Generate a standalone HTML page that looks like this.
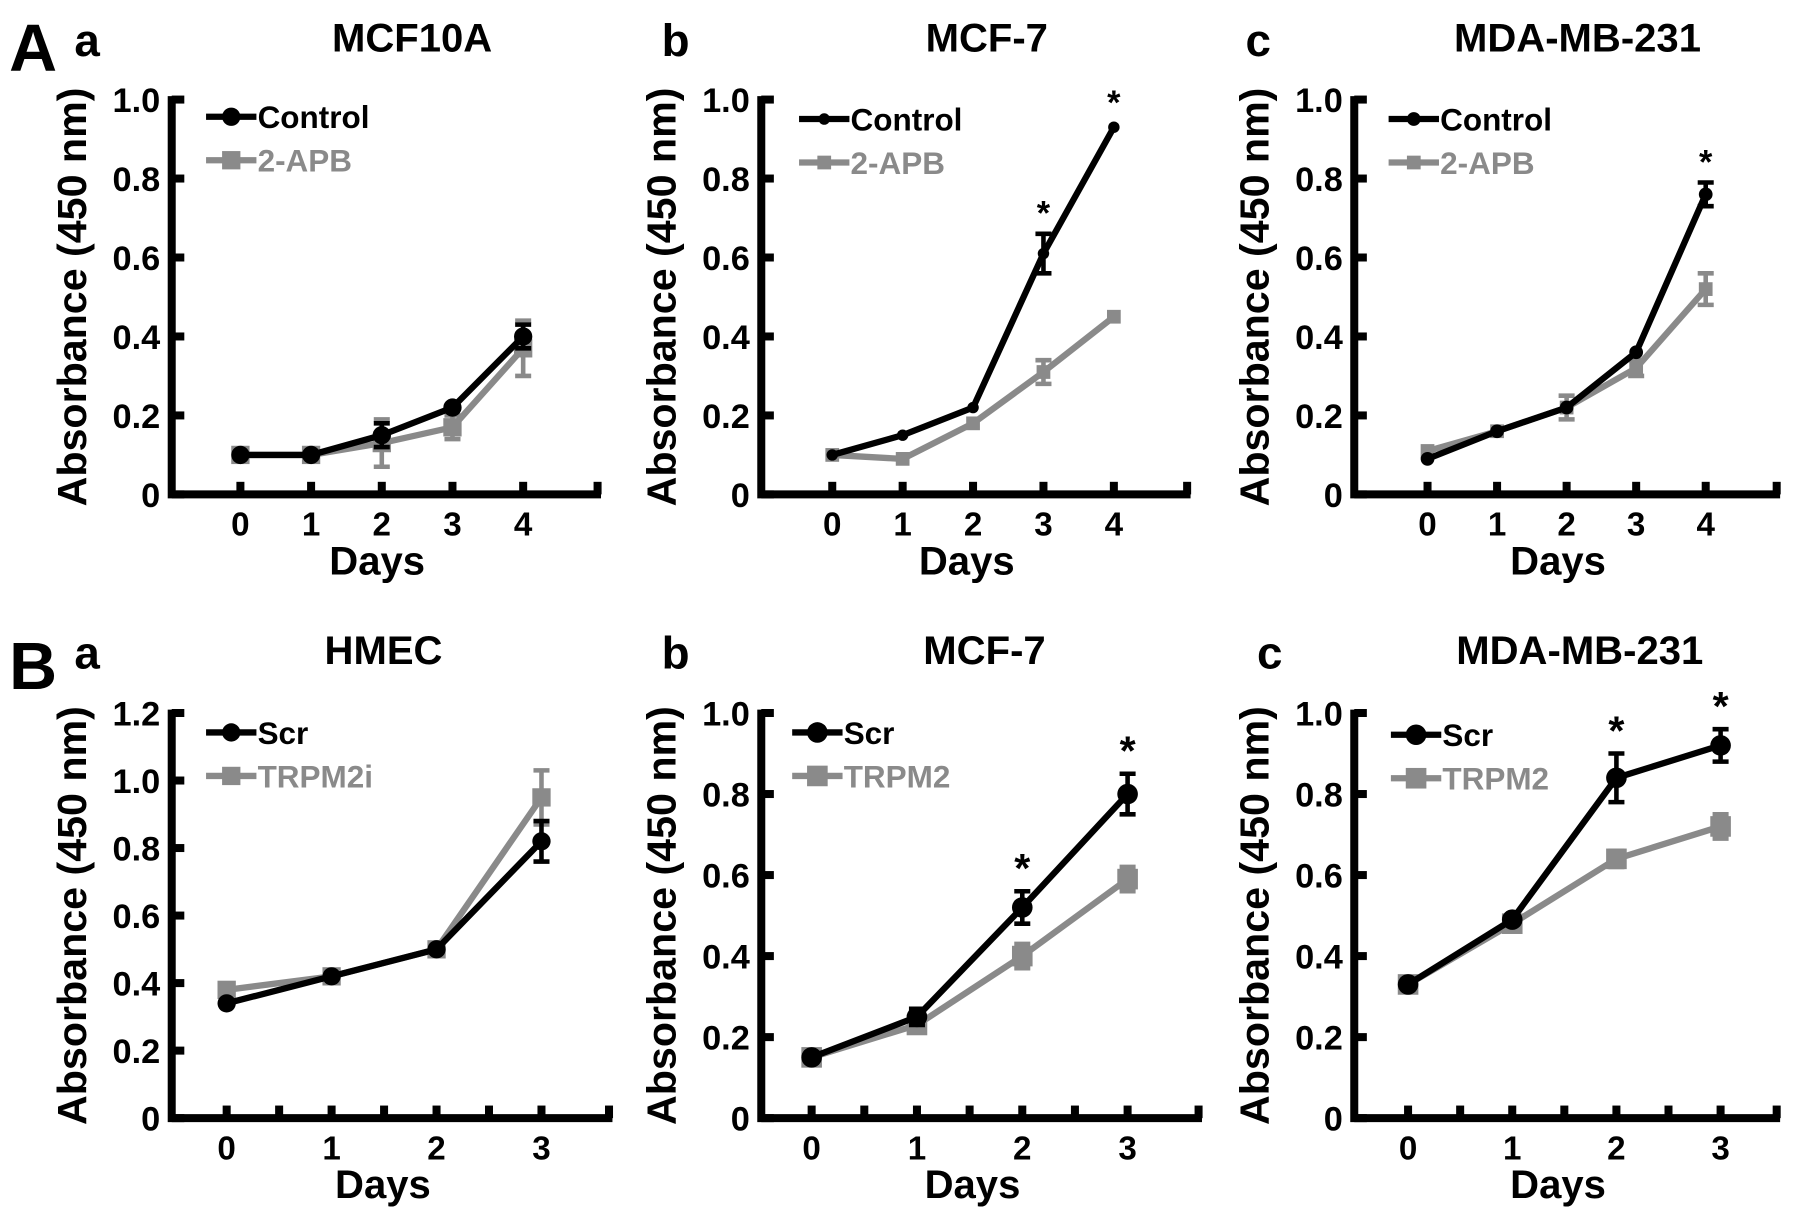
<!DOCTYPE html>
<html><head><meta charset="utf-8"><style>
html,body{margin:0;padding:0;background:#fff;}
svg{display:block;}
text{font-family:"Liberation Sans",Arial,sans-serif;font-weight:bold;}
</style></head><body>
<svg id="fig" width="1795" height="1220" viewBox="0 0 1568 1066" preserveAspectRatio="none" xmlns="http://www.w3.org/2000/svg">
<text x="8" y="62" font-size="58">A</text>
<text x="8" y="602" font-size="58">B</text>
</svg>
<script>
// ---- data ----
const daysA = [0,1,2,3,4];
const daysB = [0,1,2,3];
const aaCtrl = [0.10,0.10,0.15,0.22,0.40];
const aaCtrlErr = [0.005,0.005,0.03,0.01,0.03];
const aaApb = [0.10,0.10,0.13,0.17,0.37];
const aaApbErr = [0.005,0.005,0.06,0.03,0.07];
const abCtrl = [0.10,0.15,0.22,0.61,0.93];
const abCtrlErr = [0.005,0.01,0.01,0.05,0.01];
const abApb = [0.10,0.09,0.18,0.31,0.45];
const abApbErr = [0.005,0.005,0.01,0.03,0.01];
const acCtrl = [0.09,0.16,0.22,0.36,0.76];
const acCtrlErr = [0.005,0.01,0.01,0.01,0.03];
const acApb = [0.11,0.16,0.22,0.32,0.52];
const acApbErr = [0.005,0.01,0.03,0.02,0.04];
const baScr = [0.34,0.42,0.50,0.82];
const baScrErr = [0.01,0.01,0.01,0.06];
const baTrp = [0.38,0.42,0.50,0.95];
const baTrpErr = [0.01,0.01,0.01,0.08];
const bbScr = [0.15,0.25,0.52,0.80];
const bbScrErr = [0.01,0.02,0.04,0.05];
const bbTrp = [0.15,0.23,0.40,0.59];
const bbTrpErr = [0.01,0.01,0.03,0.03];
const bcScr = [0.33,0.49,0.84,0.92];
const bcScrErr = [0.01,0.01,0.06,0.04];
const bcTrp = [0.33,0.48,0.64,0.72];
const bcTrpErr = [0.01,0.01,0.02,0.03];
const yTicksA = [0,0.2,0.4,0.6,0.8,1.0];
const yTickLabelsA = ["0","0.2","0.4","0.6","0.8","1.0"];
const yTicksBa = [0,0.2,0.4,0.6,0.8,1.0,1.2];
const yTickLabelsBa = ["0","0.2","0.4","0.6","0.8","1.0","1.2"];

const NS="http://www.w3.org/2000/svg";
const svg=document.getElementById('fig');
function mk(tag,attrs,parent){const e=document.createElementNS(NS,tag);for(const k in attrs)e.setAttribute(k,attrs[k]);(parent||svg).appendChild(e);return e;}

function panel(p){
  const g=mk('g',{});
  
  
  const sx=d=>p.x0+(d-p.days[0])*(p.x1-p.x0)/(p.days[p.days.length-1]-p.days[0]);
  const sy=v=>p.yb-v*(p.yb-p.yt)/p.ymax;
  let t=mk('text',{x:p.lx,y:p.ty+4,'font-size':40},g);t.textContent=p.letter;
  
  
  t=mk('text',{x:p.tx,y:p.ty,'font-size':35,'text-anchor':'middle'},g);t.textContent=p.title;
  
  
  const ax=mk('path',{d:`M${p.ax} ${p.yt-3}V${p.yb}H${p.xe}`,stroke:'#000','stroke-width':7,fill:'none'},g);
  
  
  p.yticks.forEach((v,i)=>{
    mk('line',{x1:p.ax,x2:p.ax+11,y1:sy(v),y2:sy(v),stroke:'#000','stroke-width':7},g);
    const l=mk('text',{x:p.ax-10,y:sy(v)+11,'font-size':30,'text-anchor':'end'},g);l.textContent=p.ylabels[i];
    
    
  });
  const xt=p.minor?[]:p.days.slice();
  if(p.minor){for(let d=p.days[0];d<=p.days[p.days.length-1]+1e-9;d+=0.5)xt.push(d);}
  xt.forEach(d=>mk('line',{x1:sx(d),x2:sx(d),y1:p.yb,y2:p.yb-11,stroke:'#000','stroke-width':7},g));
  mk('line',{x1:p.xe-3,x2:p.xe-3,y1:p.yb,y2:p.yb-11,stroke:'#000','stroke-width':7},g);
  p.days.forEach(d=>{const l=mk('text',{x:sx(d),y:p.yb+36,'font-size':29,'text-anchor':'middle'},g);l.textContent=d;
    
    });
  t=mk('text',{x:(p.ax+p.xe)/2-8,y:p.yb+70,'font-size':35,'text-anchor':'middle'},g);t.textContent='Days';
  
  
  const cy=(p.yt+p.yb)/2;
  t=mk('text',{x:p.ax-75,y:cy,'font-size':36,'text-anchor':'middle',transform:`rotate(-90 ${p.ax-75} ${cy})`},g);t.textContent='Absorbance (450 nm)';
  
  
  const series=[{v:p.s2,e:p.e2,c:'#8a8a8a',sq:true,name:p.n2},{v:p.s1,e:p.e1,c:'#000',sq:false,name:p.n1}];
  series.forEach((s,si)=>{
    const sg=mk('g',{},g);
    
    
    const pts=p.days.map((d,i)=>sx(d)+','+sy(s.v[i])).join(' ');
    mk('polyline',{points:pts,stroke:s.c,'stroke-width':5.5,fill:'none'},sg);
    p.days.forEach((d,i)=>{
      const x=sx(d),y=sy(s.v[i]),e=s.e[i];
      if(e>0.015){
        mk('path',{d:`M${x} ${sy(s.v[i]+e)}V${sy(s.v[i]-e)}M${x-7} ${sy(s.v[i]+e)}H${x+7}M${x-7} ${sy(s.v[i]-e)}H${x+7}`,stroke:s.c,'stroke-width':4,fill:'none'},sg);
      }
      let m;
      if(s.sq) m=mk('rect',{x:x-p.ms,y:y-p.ms,width:2*p.ms,height:2*p.ms,fill:s.c},sg);
      else m=mk('circle',{cx:x,cy:y,r:p.mc,fill:s.c},sg);
      
      
    });
  });
  p.stars.forEach(i=>{
    const top=Math.max(p.s1[i]+p.e1[i],p.s2[i]+p.e2[i]);
    const st=mk('text',{x:sx(p.days[i]),y:sy(top)-8,'font-size':p.starSize,'text-anchor':'middle','font-weight':p.starBold?'bold':'normal'},g);st.textContent='*';
    
    
  });
  const lg=mk('g',{},g);
  
  
  [[p.n1,'#000',false,0],[p.n2,'#8a8a8a',true,38]].forEach(([n,c,sq,dy])=>{
    const y=p.ly+dy,x=p.lgx;
    mk('line',{x1:x,x2:x+44,y1:y,y2:y,stroke:c,'stroke-width':5.5},lg);
    if(sq)mk('rect',{x:x+22-p.ms,y:y-p.ms,width:2*p.ms,height:2*p.ms,fill:c},lg);
    else mk('circle',{cx:x+22,cy:y,r:p.mc,fill:c},lg);
    const lt=mk('text',{x:x+45,y:y+10,'font-size':27.5,fill:c},lg);lt.textContent=n;
    
    
  });
}

const Ayt=87,Ayb=432,Byt=623,Byb=977;
panel({id:'a-mcf10a',letter:'a',lx:65,title:'MCF10A',tx:360,ty:45,ax:150,xe:525,x0:210,x1:457,yt:Ayt,yb:Ayb,ymax:1,days:daysA,
 yticks:yTicksA,ylabels:yTickLabelsA,s1:aaCtrl,e1:aaCtrlErr,s2:aaApb,e2:aaApbErr,n1:'Control',n2:'2-APB',stars:[],ms:8,mc:8,lgx:180,ly:102,starSize:30});
panel({id:'a-mcf7',letter:'b',lx:578,title:'MCF-7',tx:862,ty:45,ax:665,xe:1040,x0:727,x1:973,yt:Ayt,yb:Ayb,ymax:1,days:daysA,
 yticks:yTicksA,ylabels:yTickLabelsA,s1:abCtrl,e1:abCtrlErr,s2:abApb,e2:abApbErr,n1:'Control',n2:'2-APB',stars:[3,4],ms:6,mc:5,lgx:698,ly:104,starSize:30});
panel({id:'a-mda',letter:'c',lx:1088,title:'MDA-MB-231',tx:1378,ty:45,ax:1183,xe:1555,x0:1247,x1:1490,yt:Ayt,yb:Ayb,ymax:1,days:daysA,
 yticks:yTicksA,ylabels:yTickLabelsA,s1:acCtrl,e1:acCtrlErr,s2:acApb,e2:acApbErr,n1:'Control',n2:'2-APB',stars:[4],ms:6,mc:6,lgx:1213,ly:104,starSize:30});
panel({id:'b-hmec',letter:'a',lx:65,title:'HMEC',tx:335,ty:580,ax:150,xe:535,x0:198,x1:473,yt:Byt,yb:Byb,ymax:1.2,days:daysB,minor:true,
 yticks:yTicksBa,ylabels:yTickLabelsBa,s1:baScr,e1:baScrErr,s2:baTrp,e2:baTrpErr,n1:'Scr',n2:'TRPM2i',stars:[],ms:8,mc:8,lgx:180,ly:640,starSize:36});
panel({id:'b-mcf7',letter:'b',lx:578,title:'MCF-7',tx:860,ty:580,ax:665,xe:1050,x0:709,x1:985,yt:Byt,yb:Byb,ymax:1,days:daysB,minor:true,
 yticks:yTicksA,ylabels:yTickLabelsA,s1:bbScr,e1:bbScrErr,s2:bbTrp,e2:bbTrpErr,n1:'Scr',n2:'TRPM2',stars:[2,3],ms:9,mc:9,lgx:692,ly:640,starSize:36,starBold:true});
panel({id:'b-mda',letter:'c',lx:1098,title:'MDA-MB-231',tx:1380,ty:580,ax:1183,xe:1555,x0:1230,x1:1503,yt:Byt,yb:Byb,ymax:1,days:daysB,minor:true,
 yticks:yTicksA,ylabels:yTickLabelsA,s1:bcScr,e1:bcScrErr,s2:bcTrp,e2:bcTrpErr,n1:'Scr',n2:'TRPM2',stars:[2,3],ms:9,mc:9,lgx:1215,ly:642,starSize:36,starBold:true});
</script>
</body></html>
